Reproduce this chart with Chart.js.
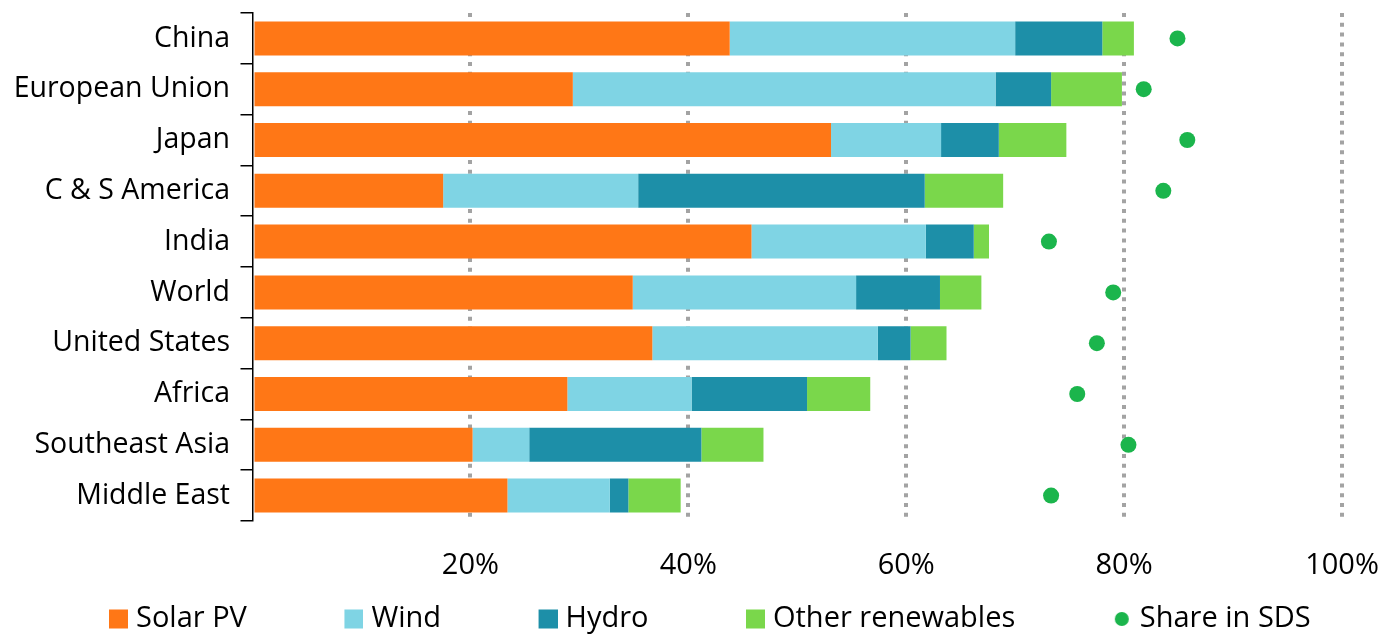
<!DOCTYPE html>
<html>
<head>
<meta charset="utf-8">
<script src="https://cdn.jsdelivr.net/npm/chart.js@4/dist/chart.umd.min.js"></script>
<style>
  html, body { margin: 0; padding: 0; background: #fff; }
  #wrap { width: 1397px; height: 634px; }
</style>
</head>
<body>
<div id="wrap"><canvas id="c" width="1397" height="634"></canvas></div>
<script>
// Regions, top to bottom
const regions = ['China', 'European Union', 'Japan', 'C & S America', 'India',
  'World', 'United States', 'Africa', 'Southeast Asia', 'Middle East'];

// share of each technology (percentage points, stacked)
const solarPv = [43.8, 29.4, 53.1, 17.5, 45.8, 34.9, 36.7, 28.9, 20.2, 23.4];
const wind    = [26.2, 38.8, 10.1, 17.9, 16.0, 20.5, 20.7, 11.4,  5.2,  9.4];
const hydro   = [ 8.0,  5.1,  5.3, 26.3,  4.4,  7.7,  3.0, 10.6, 15.8,  1.7];
const otherRe = [ 2.9,  6.5,  6.2,  7.2,  1.4,  3.8,  3.3,  5.8,  5.7,  4.8];
const shareSds = [84.9, 81.8, 85.8, 83.6, 73.1, 79.0, 77.5, 75.7, 80.4, 73.3];

const xTicks = [0, 20, 40, 60, 80, 100];

const C_SOLAR = '#FF7716';
const C_WIND  = '#7FD4E4';
const C_HYDRO = '#1D8FA8';
const C_OTHER = '#7AD74B';
const C_SDS   = '#1BB54C';
const C_GRID  = '#a3a3a3';
const FONT    = "'Open Sans', 'Noto Sans', sans-serif";

// legend marks: wide canvases so the gap sits to the left of the swatch
const MARK_BOX = 110;
const MARK_W = MARK_BOX + 13;
function mark(color, round) {
  const c = document.createElement('canvas');
  c.width = MARK_W; c.height = 20;
  const g = c.getContext('2d');
  g.fillStyle = color;
  if (round) {
    g.beginPath(); g.arc(MARK_W - 10, 10, 7, 0, Math.PI * 2); g.fill();
  } else {
    g.fillRect(MARK_W - 19, 0.5, 19, 19);
  }
  return c;
}
const legendMarks = [mark(C_SOLAR), mark(C_WIND), mark(C_HYDRO), mark(C_OTHER), mark(C_SDS, true)];

const bar = (label, data, color) => ({
  label, data, backgroundColor: color, borderWidth: 0,
  barPercentage: 0.67, categoryPercentage: 1, stack: 'mix',
});

new Chart(document.getElementById('c'), {
  type: 'bar',
  data: {
    labels: regions,
    datasets: [
      bar('Solar PV', solarPv, C_SOLAR),
      bar('Wind', wind, C_WIND),
      bar('Hydro', hydro, C_HYDRO),
      bar('Other renewables', otherRe, C_OTHER),
      {
        type: 'line',
        label: 'Share in SDS',
        data: shareSds,
        stack: 'sds',
        showLine: false,
        pointRadius: 8,
        pointBorderWidth: 0,
        pointBackgroundColor: C_SDS,
        borderColor: C_SDS,
        backgroundColor: C_SDS,
      },
    ],
  },
  options: {
    indexAxis: 'y',
    responsive: false,
    animation: false,
    layout: { padding: { top: 13, left: 11.5, right: 0, bottom: -9.5 } },
    scales: {
      x: {
        stacked: true,
        min: 0, max: 100,
        afterBuildTicks: (s) => { s.ticks = xTicks.map(v => ({ value: v })); },
        afterFit: (s) => { s.height = 83.5; s.paddingRight = 55; s.paddingLeft = 0; },
        grid: {
          color: (ctx) => (ctx.tick && ctx.tick.value === 0) ? 'rgba(0,0,0,0)' : C_GRID,
          lineWidth: 4,
          drawTicks: false,
        },
        border: { display: false, dash: [4, 5.8] },
        ticks: {
          color: '#000',
          padding: 27,
          font: { family: FONT, size: 29 },
          callback: (v) => v === 0 ? '' : v + '%',
        },
      },
      y: {
        stacked: true,
        afterFit: (s) => { s.width = 241; s.paddingTop = 0; s.paddingBottom = 0; },
        grid: {
          offset: true,
          drawOnChartArea: false,
          drawTicks: true,
          tickLength: 12,
          color: '#000',
          lineWidth: 1.5,
        },
        border: { display: true, color: '#000', width: 1.5 },
        ticks: {
          color: '#000',
          padding: 10.5,
          font: { family: FONT, size: 28.5 },
        },
      },
    },
    plugins: {
      tooltip: { enabled: false },
      legend: {
        position: 'bottom',
        align: 'start',
        labels: {
          color: '#000',
          font: { family: FONT, size: 29 },
          usePointStyle: true,
          pointStyleWidth: MARK_BOX,
          padding: 0,
          generateLabels: (chart) => {
            const items = Chart.defaults.plugins.legend.labels.generateLabels(chart);
            items.forEach((it, i) => { it.pointStyle = legendMarks[i]; });
            return items;
          },
        },
      },
    },
  },
});
</script>
</body>
</html>
